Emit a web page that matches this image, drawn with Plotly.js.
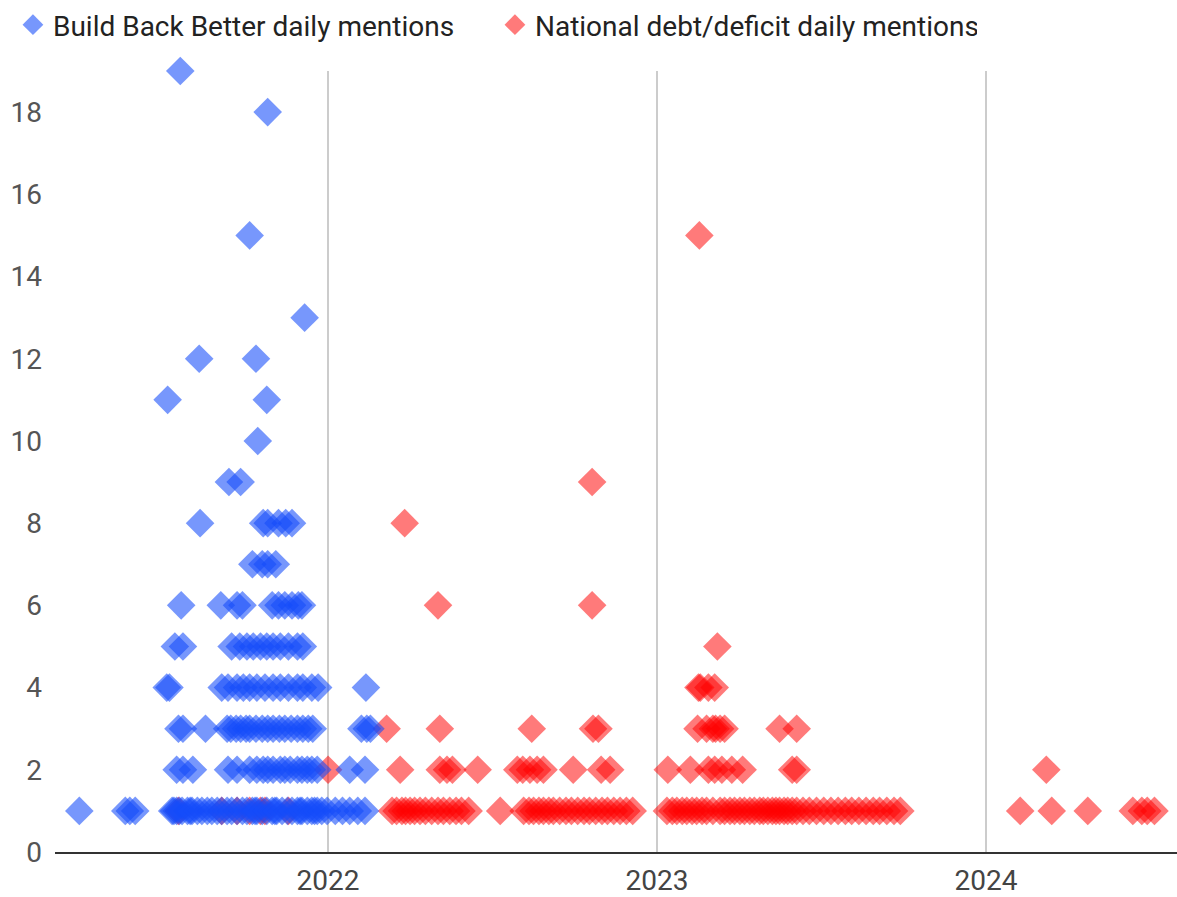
<!DOCTYPE html>
<html>
<head>
<meta charset="utf-8">
<script src="https://cdn.plot.ly/plotly-3.0.1.min.js"></script>
<style>
  html, body { margin: 0; padding: 0; background: #ffffff; }
  #chart { width: 1177px; height: 897px; }
</style>
</head>
<body>
<div id="chart"></div>
<script>
// Series names shown in the legend
const seriesNames = ["Build Back Better daily mentions", "National debt/deficit daily mentions"];

// Build Back Better: [mentions per day, days with that many mentions]
const bbbRows = [
  [19, ["2021-07-21"]],
  [18, ["2021-10-26"]],
  [15, ["2021-10-06"]],
  [13, ["2021-12-06"]],
  [12, ["2021-08-11", "2021-10-13"]],
  [11, ["2021-07-07", "2021-10-25"]],
  [10, ["2021-10-15"]],
  [9,  ["2021-09-13", "2021-09-26"]],
  [8,  ["2021-08-12", "2021-10-21", "2021-10-26", "2021-11-07", "2021-11-15", "2021-11-22"]],
  [7,  ["2021-10-09", "2021-10-20", "2021-10-26", "2021-11-04"]],
  [6,  ["2021-07-22", "2021-09-04", "2021-09-22", "2021-09-28", "2021-10-31", "2021-11-07",
        "2021-11-14", "2021-11-22", "2021-11-29", "2021-12-03"]],
  [5,  ["2021-07-15", "2021-07-24", "2021-09-16", "2021-09-25", "2021-10-03", "2021-10-10",
        "2021-10-18", "2021-10-25", "2021-11-01", "2021-11-09", "2021-11-18", "2021-11-28", "2021-12-04"]],
  [4,  ["2021-07-06", "2021-07-09", "2021-09-05", "2021-09-12", "2021-09-22", "2021-09-29",
        "2021-10-06", "2021-10-14", "2021-10-23", "2021-11-01", "2021-11-09", "2021-11-18",
        "2021-11-28", "2021-12-04", "2021-12-14", "2021-12-21", "2022-02-12"]],
  [3,  ["2021-07-19", "2021-07-24", "2021-08-18", "2021-09-11", "2021-09-15", "2021-09-21",
        "2021-09-26", "2021-10-02", "2021-10-06", "2021-10-13", "2021-10-20", "2021-10-26",
        "2021-11-01", "2021-11-08", "2021-11-14", "2021-11-21", "2021-11-28", "2021-12-04",
        "2021-12-10", "2021-12-15", "2022-02-07", "2022-02-13", "2022-02-17"]],
  [2,  ["2021-07-17", "2021-07-24", "2021-08-04", "2021-09-12", "2021-09-22", "2021-10-06",
        "2021-10-14", "2021-10-21", "2021-10-26", "2021-11-01", "2021-11-09", "2021-11-14",
        "2021-11-20", "2021-11-28", "2021-12-03", "2021-12-09", "2021-12-14", "2021-12-20",
        "2022-01-25", "2022-02-11"]],
  [1,  ["2021-03-31", "2021-05-21", "2021-05-26", "2021-06-01", "2021-07-12", "2021-07-14",
        "2021-07-17", "2021-07-20", "2021-07-23", "2021-07-29", "2021-08-01", "2021-08-03",
        "2021-08-09", "2021-08-14", "2021-08-20", "2021-08-25", "2021-08-31", "2021-09-05",
        "2021-09-11", "2021-09-16", "2021-09-22", "2021-09-28", "2021-10-03", "2021-10-09",
        "2021-10-12", "2021-10-14", "2021-10-20", "2021-10-25", "2021-10-31", "2021-11-03",
        "2021-11-05", "2021-11-11", "2021-11-17", "2021-11-22", "2021-11-28", "2021-12-01",
        "2021-12-03", "2021-12-09", "2021-12-14", "2021-12-17", "2021-12-20", "2021-12-25",
        "2021-12-31", "2022-01-09", "2022-01-17", "2022-01-25", "2022-02-03", "2022-02-11"]]
];

// National debt/deficit: [mentions per day, days with that many mentions]
const debtRows = [
  [15, ["2023-02-17"]],
  [9,  ["2022-10-21"]],
  [8,  ["2022-03-27"]],
  [6,  ["2022-05-03", "2022-10-21"]],
  [5,  ["2023-03-09"]],
  [4,  ["2023-02-16", "2023-02-18", "2023-02-27", "2023-03-06"]],
  [3,  ["2022-03-07", "2022-05-05", "2022-08-15", "2022-10-22", "2022-10-28", "2023-02-15",
        "2023-02-25", "2023-03-04", "2023-03-07", "2023-03-12", "2023-03-17", "2023-05-17", "2023-06-05"]],
  [2,  ["2022-01-01", "2022-03-22", "2022-05-05", "2022-05-13", "2022-05-19", "2022-06-16",
        "2022-07-30", "2022-08-05", "2022-08-13", "2022-08-21", "2022-08-28", "2022-09-30",
        "2022-10-31", "2022-11-10", "2023-01-13", "2023-02-07", "2023-02-27", "2023-03-06",
        "2023-03-14", "2023-03-25", "2023-04-06", "2023-05-31", "2023-06-05", "2024-03-08"]],
  [1,  ["2021-07-19", "2021-09-05", "2021-09-22", "2021-10-06", "2021-10-18", "2021-10-23",
        "2021-11-18", "2022-03-13", "2022-03-18", "2022-03-24", "2022-03-28", "2022-04-02",
        "2022-04-07", "2022-04-13", "2022-04-19", "2022-04-26", "2022-05-03", "2022-05-09",
        "2022-05-16", "2022-05-23", "2022-05-29", "2022-06-06", "2022-07-11", "2022-08-06",
        "2022-08-12", "2022-08-17", "2022-08-23", "2022-08-28", "2022-09-03", "2022-09-08",
        "2022-09-15", "2022-09-22", "2022-09-28", "2022-10-05", "2022-10-12", "2022-10-18",
        "2022-10-25", "2022-11-01", "2022-11-07", "2022-11-14", "2022-11-21", "2022-11-28",
        "2022-12-05", "2023-01-12", "2023-01-18", "2023-01-23", "2023-01-29", "2023-02-03",
        "2023-02-09", "2023-02-14", "2023-02-20", "2023-02-25", "2023-03-04", "2023-03-12",
        "2023-03-17", "2023-03-23", "2023-03-28", "2023-04-03", "2023-04-08", "2023-04-14",
        "2023-04-19", "2023-04-25", "2023-04-29", "2023-05-04", "2023-05-09", "2023-05-13",
        "2023-05-17", "2023-05-22", "2023-05-26", "2023-05-31", "2023-06-05", "2023-06-12",
        "2023-06-19", "2023-06-27", "2023-07-05", "2023-07-13", "2023-07-21", "2023-07-29",
        "2023-08-05", "2023-08-13", "2023-08-21", "2023-08-29", "2023-09-05", "2023-09-13",
        "2023-09-21", "2023-09-28", "2024-02-08", "2024-03-14", "2024-04-23", "2024-06-12",
        "2024-06-22", "2024-06-28", "2024-07-06"]]
];

const xRange = ["2021-03-04", "2024-07-31"];
const yTicks = [0, 2, 4, 6, 8, 10, 12, 14, 16, 18];

function flatten(rows) {
  const x = [], y = [];
  rows.forEach(([count, days]) => days.forEach(d => { x.push(d); y.push(count); }));
  return { x, y };
}

function diamondTrace(rows, name, color, opacity) {
  const pts = flatten(rows);
  return {
    type: "scatter",
    mode: "markers",
    name: name,
    x: pts.x,
    y: pts.y,
    cliponaxis: false,
    hoverinfo: "x+y+name",
    marker: { symbol: "diamond", size: 22, color: color, opacity: opacity, line: { width: 0 } }
  };
}

// Debt series is drawn first so the Build Back Better diamonds sit on top;
// the legend order is reversed to list Build Back Better first.
const traces = [
  diamondTrace(debtRows, seriesNames[1], "rgb(255,0,0)", 0.52),
  diamondTrace(bbbRows, seriesNames[0], "rgb(20,75,250)", 0.58)
];

const layout = {
  width: 1177,
  height: 897,
  margin: { l: 55, r: 0, t: 71, b: 45, pad: 0 },
  paper_bgcolor: "#ffffff",
  plot_bgcolor: "#ffffff",
  font: { family: "Roboto, 'Open Sans', sans-serif", size: 28, color: "#444444" },
  showlegend: true,
  legend: {
    orientation: "h",
    traceorder: "reversed",
    xref: "container",
    x: 0.011,
    xanchor: "left",
    yref: "container",
    y: 1,
    yanchor: "top",
    entrywidth: 437,
    entrywidthmode: "pixels",
    font: { size: 28, color: "#222222" },
    bgcolor: "rgba(0,0,0,0)",
    borderwidth: 0,
    itemclick: false,
    itemdoubleclick: false
  },
  xaxis: {
    type: "date",
    range: xRange,
    dtick: "M12",
    tick0: "2022-01-01",
    tickformat: "%Y",
    showgrid: true,
    gridcolor: "#cccccc",
    gridwidth: 1.5,
    zeroline: false,
    showline: true,
    linecolor: "#333333",
    linewidth: 2,
    ticks: "",
    ticklabelstandoff: 2,
    tickfont: { size: 28, color: "#444444" },
    fixedrange: true
  },
  yaxis: {
    range: [0, 19],
    tickvals: yTicks,
    showgrid: false,
    zeroline: false,
    showline: false,
    ticks: "",
    ticklabelstandoff: 12,
    tickfont: { size: 28, color: "#555555" },
    fixedrange: true
  }
};

Plotly.newPlot("chart", traces, layout, { displayModeBar: false, staticPlot: true });
</script>
</body>
</html>
